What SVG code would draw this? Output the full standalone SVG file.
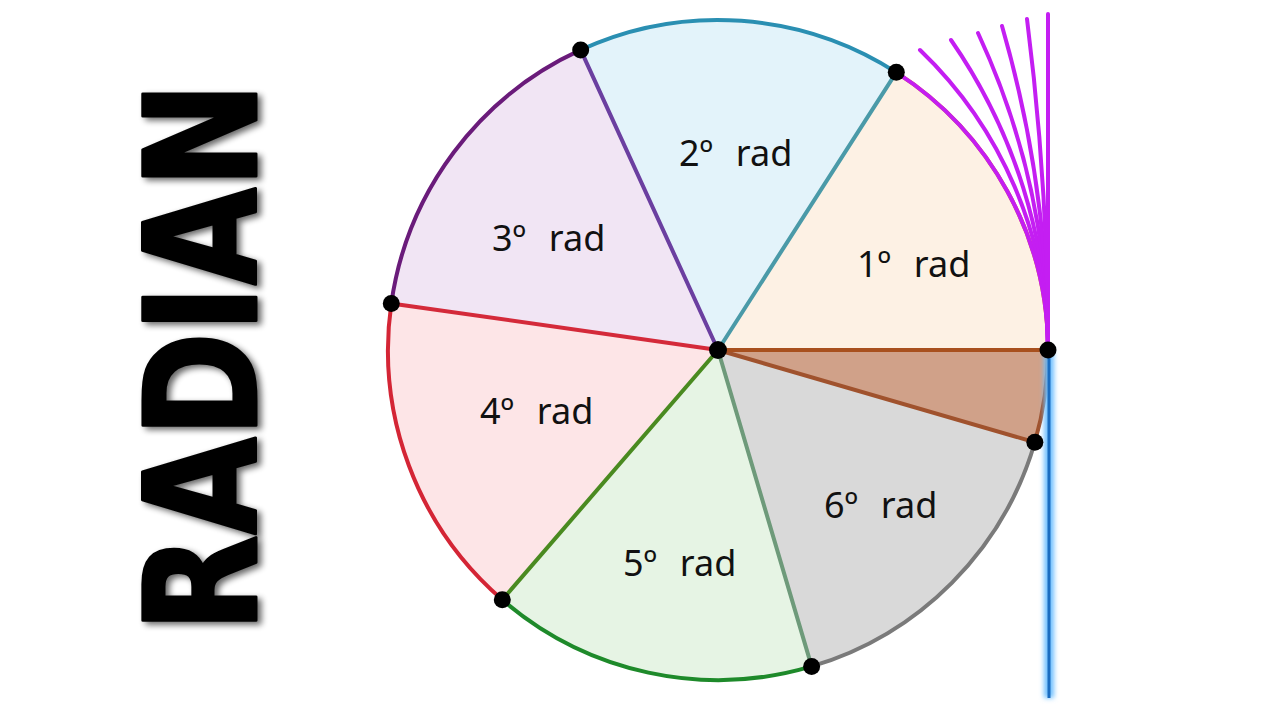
<svg xmlns="http://www.w3.org/2000/svg" width="1280" height="720" viewBox="0 0 1280 720">
<defs>
<filter id="shadow" filterUnits="userSpaceOnUse" x="100" y="40" width="200" height="640">
<feGaussianBlur in="SourceAlpha" stdDeviation="3"/>
<feOffset dx="4" dy="3" result="b"/>
<feComponentTransfer><feFuncA type="linear" slope="0.6"/></feComponentTransfer>
<feMerge><feMergeNode/><feMergeNode in="SourceGraphic"/></feMerge>
</filter>
<filter id="glow" filterUnits="userSpaceOnUse" x="1030" y="340" width="40" height="370">
<feGaussianBlur stdDeviation="2.5"/>
</filter>
<style>
.lbl{font-family:"Noto Sans","Open Sans",sans-serif;font-size:36px;fill:#111;white-space:pre;word-spacing:2px}
.arc{fill:none;stroke-width:4;stroke-linecap:round}
.rad{stroke-width:4;stroke-linecap:round}
.mag{fill:none;stroke:#c41ef2;stroke-width:4;stroke-linecap:round}
.dot{fill:#000}
</style>
</defs>
<rect width="1280" height="720" fill="#fff"/>

<g id="title" filter="url(#shadow)">
<text transform="translate(256,357) rotate(-90)" text-anchor="middle" textLength="550" lengthAdjust="spacingAndGlyphs" font-family="DejaVu Sans" font-weight="bold" font-size="155" fill="#000" stroke="#000" stroke-width="3" stroke-linejoin="round">RADIAN</text>
</g>

<g id="sectors">
<path id="s1" d="M718,350 L1048,350 A330,330 0 0 0 896.3,72.31 Z" fill="#fdf1e4"/>
<path id="s2" d="M718,350 L896.3,72.31 A330,330 0 0 0 580.67,49.93 Z" fill="#e3f3fa"/>
<path id="s3" d="M718,350 L580.67,49.93 A330,330 0 0 0 391.3,303.43 Z" fill="#f1e5f4"/>
<path id="s4" d="M718,350 L391.3,303.43 A330,330 0 0 0 502.3,599.75 Z" fill="#fde5e7"/>
<path id="s5" d="M718,350 L502.3,599.75 A330,330 0 0 0 811.61,666.44 Z" fill="#e6f4e4"/>
<path id="s6" d="M718,350 L811.61,666.44 A330,330 0 0 0 1034.86,442.21 Z" fill="#d9d9d9"/>
<path id="s7" d="M718,350 L1034.86,442.21 A330,330 0 0 0 1048,350 Z" fill="#d0a189"/>
</g>

<g id="connectors">
<path class="arc" d="M1048,350 A330,330 0 0 0 896.3,72.31" stroke="#d2691e"/>
<path class="arc" d="M896.3,72.31 A330,330 0 0 0 580.67,49.93" stroke="#2a8fb2"/>
<path class="arc" d="M580.67,49.93 A330,330 0 0 0 391.3,303.43" stroke="#6a1b7a"/>
<path class="arc" d="M391.3,303.43 A330,330 0 0 0 502.3,599.75" stroke="#d42535"/>
<path class="arc" d="M502.3,599.75 A330,330 0 0 0 811.61,666.44" stroke="#1e8a2a"/>
<path class="arc" d="M811.61,666.44 A330,330 0 0 0 1034.86,442.21" stroke="#7a7a7a"/>
<path class="arc" d="M1034.86,442.21 A330,330 0 0 0 1048,350" stroke="#a0522d"/>

<line class="rad" x1="718" y1="350" x2="896.3" y2="72.31" stroke="#4a9aa8"/>
<line class="rad" x1="718" y1="350" x2="580.67" y2="49.93" stroke="#6b3fa0"/>
<line class="rad" x1="718" y1="350" x2="391.3" y2="303.43" stroke="#d42a3a"/>
<line class="rad" x1="718" y1="350" x2="502.3" y2="599.75" stroke="#4a8a20"/>
<line class="rad" x1="718" y1="350" x2="811.61" y2="666.44" stroke="#6e9a7a"/>
<line class="rad" x1="718" y1="350" x2="1034.86" y2="442.21" stroke="#a0522d"/>
<line class="rad" x1="718" y1="350" x2="1048" y2="350" stroke="#a8501e"/>

<path class="mag" d="M1048,350 A330,330 0 0 0 896.3,72.31"/>
<path class="mag" d="M1048,350 A415,415 0 0 0 920,50"/>
<path class="mag" d="M1048,350 A544,544 0 0 0 951,40"/>
<path class="mag" d="M1048,350 A753,753 0 0 0 978,33"/>
<path class="mag" d="M1048,350 A1164,1164 0 0 0 1002,26"/>
<path class="mag" d="M1048,350 A2619,2619 0 0 0 1027,19"/>
<path class="mag" d="M1048,350 L1048,14"/>

<line x1="1049" y1="352" x2="1049" y2="698" stroke="#6ec0ff" stroke-width="10" filter="url(#glow)"/>
<line x1="1049" y1="350" x2="1049" y2="698" stroke="#1a6cc0" stroke-width="3"/>
</g>

<g id="points">
<circle class="dot" cx="718" cy="350" r="9"/>
<circle class="dot" cx="1048" cy="350" r="8.5"/>
<circle class="dot" cx="896.3" cy="72.31" r="8.5"/>
<circle class="dot" cx="580.67" cy="49.93" r="8.5"/>
<circle class="dot" cx="391.3" cy="303.43" r="8.5"/>
<circle class="dot" cx="502.3" cy="599.75" r="8.5"/>
<circle class="dot" cx="811.61" cy="666.44" r="8.5"/>
<circle class="dot" cx="1034.86" cy="442.21" r="8.5"/>
</g>

<g id="labels">
<text class="lbl" x="857" y="277">1º  rad</text>
<text class="lbl" x="679" y="166">2º  rad</text>
<text class="lbl" x="492" y="251">3º  rad</text>
<text class="lbl" x="480" y="424">4º  rad</text>
<text class="lbl" x="623" y="576">5º  rad</text>
<text class="lbl" x="824" y="518">6º  rad</text>
</g>
</svg>
